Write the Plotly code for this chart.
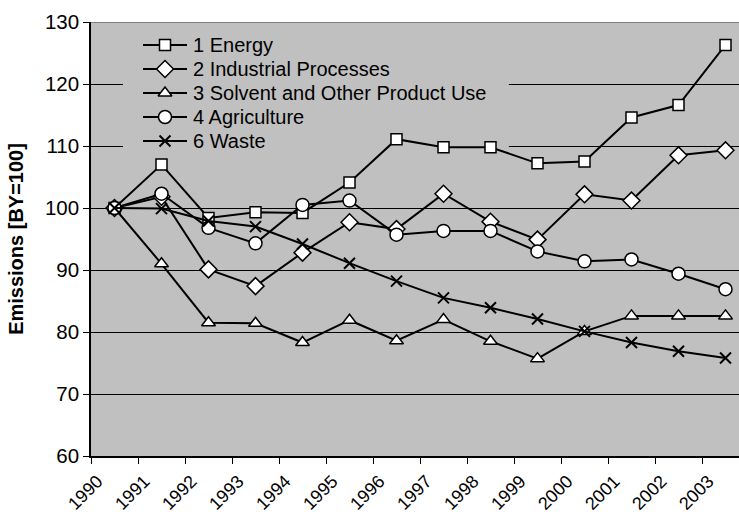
import plotly.graph_objects as go

years = ["1990", "1991", "1992", "1993", "1994", "1995", "1996",
         "1997", "1998", "1999", "2000", "2001", "2002", "2003"]

energy = [100, 107.0, 98.4, 99.3, 99.2, 104.1, 111.1, 109.8, 109.8, 107.2, 107.5, 114.6, 116.6, 126.3]
industrial = [100, 101.8, 90.1, 87.4, 92.8, 97.7, 96.6, 102.3, 97.8, 94.9, 102.2, 101.2, 108.5, 109.3]
solvent = [100, 91.0, 81.5, 81.4, 78.3, 81.9, 78.6, 82.0, 78.5, 75.7, 80.1, 82.6, 82.6, 82.6]
agriculture = [100, 102.3, 96.8, 94.3, 100.5, 101.2, 95.7, 96.3, 96.3, 93.0, 91.4, 91.7, 89.4, 86.9]
waste = [100, 99.9, 97.9, 97.0, 94.2, 91.1, 88.2, 85.5, 83.9, 82.1, 80.1, 78.3, 76.9, 75.8]

names = ["1 Energy", "2 Industrial Processes", "3 Solvent and Other Product Use",
         "4 Agriculture", "6 Waste"]
values = [energy, industrial, solvent, agriculture, waste]
symbols = ["square", "diamond", "triangle-up", "circle", "x-thin"]
sizes = [11, 13, 12, 13, 11]

FONT = "Liberation Sans, Arial, sans-serif"
W, H = 739, 518
L, R, T, B = 91, 0, 22, 62


def marker_style(sym, size):
    if sym == "x-thin":
        return dict(symbol=sym, size=size, line=dict(color="black", width=2))
    return dict(symbol=sym, size=size, color="white",
                line=dict(color="black", width=1.5))


fig = go.Figure()
for name, vals, sym, size in zip(names, values, symbols, sizes):
    fig.add_trace(go.Scatter(
        x=years, y=vals, name=name, mode="lines+markers",
        line=dict(color="black", width=2), marker=marker_style(sym, size),
        showlegend=False,
    ))

# Legend drawn on a pixel-based overlay axis pair (x2/y2 map 1:1 to page pixels)
leg_x0, leg_x1, leg_text_x = 143, 187, 191
leg_y = [45, 69, 93, 117, 141]
annotations = []
for name, sym, size, yc in zip(names, symbols, sizes, leg_y):
    fig.add_trace(go.Scatter(
        x=[leg_x0, leg_x1], y=[yc, yc], mode="lines", xaxis="x2", yaxis="y2",
        line=dict(color="black", width=2), showlegend=False, hoverinfo="skip",
    ))
    fig.add_trace(go.Scatter(
        x=[(leg_x0 + leg_x1) / 2], y=[yc], mode="markers", xaxis="x2", yaxis="y2",
        marker=marker_style(sym, size), showlegend=False, hoverinfo="skip",
    ))
    annotations.append(dict(
        x=leg_text_x, y=yc, xref="x2", yref="y2", text=name, showarrow=False,
        xanchor="left", yanchor="middle",
        font=dict(family=FONT, size=20, color="black"),
    ))

# category width is ~47 px; the plot area is clipped at the right page edge
n_vis = (W - L) / 47.0

fig.update_layout(
    width=W, height=H,
    margin=dict(l=L, r=R, t=T, b=B, autoexpand=False),
    paper_bgcolor="white",
    plot_bgcolor="#C0C0C0",
    font=dict(family=FONT, size=20, color="black"),
    showlegend=False,
    annotations=annotations,
    xaxis=dict(
        type="category", range=[-0.5, -0.5 + n_vis], automargin=False,
        tickson="boundaries", ticks="outside", ticklen=6,
        tickcolor="black", tickwidth=1,
        showline=True, linecolor="black", linewidth=1.5,
        showgrid=False, tickangle=-45,
        ticklabelshift=-17, ticklabelstandoff=6,
        tickfont=dict(family=FONT, size=18),
    ),
    yaxis=dict(
        range=[60, 130], dtick=10, tick0=60, automargin=False,
        ticks="outside", ticklen=6, tickcolor="black", tickwidth=1,
        showline=True, linecolor="black", linewidth=1.5,
        showgrid=True, gridcolor="black", gridwidth=1,
        zeroline=False,
        tickfont=dict(family=FONT, size=20.5),
        title=dict(text="<b>Emissions [BY=100]</b>",
                   font=dict(family=FONT, size=20), standoff=16),
    ),
    xaxis2=dict(overlaying="x", range=[L, W - R], visible=False, fixedrange=True),
    yaxis2=dict(overlaying="y", range=[H - B, T], visible=False, fixedrange=True),
    shapes=[
        # legend background hides the gridlines behind it, data stays on top
        dict(type="rect", xref="x", yref="y", x0=0.18, x1=8.39, y0=108.9, y1=129.0,
             fillcolor="#C0C0C0", line=dict(width=0), layer="between"),
        dict(type="line", xref="paper", yref="y", x0=0, x1=1,
             y0=130, y1=130, line=dict(color="#808080", width=2)),
    ],
)

fig.write_html("out.html")
